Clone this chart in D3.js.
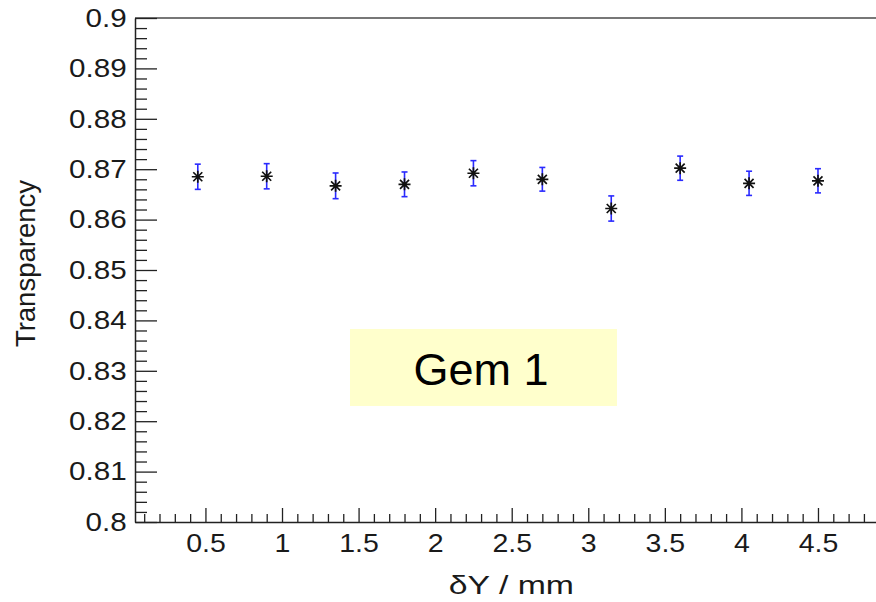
<!DOCTYPE html>
<html>
<head>
<meta charset="utf-8">
<script src="https://cdn.jsdelivr.net/npm/d3@7"></script>
<style>
  body { margin: 0; background: #fff; }
  svg { display: block; font-family: "Liberation Sans", Arial, Helvetica, sans-serif; }
</style>
</head>
<body>
<svg id="chart"></svg>
<script>
// data
const xVals = [0.45, 0.9, 1.35, 1.8, 2.25, 2.7, 3.15, 3.6, 4.05, 4.5];
const yVals = [0.8685, 0.8686, 0.8667, 0.8670, 0.8692, 0.8680, 0.8622, 0.8702, 0.8672, 0.8677];
const yErrs = [0.0025, 0.0025, 0.00255, 0.00245, 0.0025, 0.00235, 0.0025, 0.0024, 0.0024, 0.0024];

const xMajor = [0.5, 1, 1.5, 2, 2.5, 3, 3.5, 4, 4.5];
const xMinor = d3.range(1, 49).map(i => i / 10).filter(v => Math.abs(v * 2 - Math.round(v * 2)) > 1e-6);
const yMajor = [0.8, 0.81, 0.82, 0.83, 0.84, 0.85, 0.86, 0.87, 0.88, 0.89, 0.9];
const yMinor = d3.range(0, 51).map(i => 0.8 + i * 0.002).filter((v, i) => i % 5 !== 0);

const labelText = "Gem 1";
const xTitle = "δY / mm";
const yTitle = "Transparency";

const width = 876, height = 602;
const svg = d3.select("#chart").attr("width", width).attr("height", height);

const x = d3.scaleLinear().domain([0.04, 4.905]).range([135, 880]);
const y = d3.scaleLinear().domain([0.8, 0.9]).range([522, 18]);

const points = xVals.map((v, i) => ({ x: v, y: yVals[i], e: yErrs[i] }));

// label box
svg.append("rect")
    .attr("x", 350).attr("y", 329)
    .attr("width", 267).attr("height", 77)
    .attr("fill", "#ffffcc");

svg.append("text")
    .attr("x", 481).attr("y", 385)
    .attr("text-anchor", "middle")
    .style("font-size", "45px")
    .attr("fill", "#000")
    .text(labelText);

// top frame line
svg.append("line")
    .attr("x1", 135).attr("x2", width)
    .attr("y1", y(0.9)).attr("y2", y(0.9))
    .attr("stroke", "#777").attr("stroke-width", 2);

const axisColor = "#222";
const stretch = 1.14;

// y axis
const yAxis = svg.append("g")
    .attr("transform", `translate(${x.range()[0]},0)`)
    .call(d3.axisLeft(y).tickValues(yMajor).tickSizeInner(-22).tickSizeOuter(0).tickPadding(7.3)
        .tickFormat(d3.format("")));
yAxis.select(".domain").attr("stroke", axisColor).attr("stroke-width", 1.5);
yAxis.selectAll(".tick line").attr("stroke", axisColor).attr("stroke-width", 1.3);
yAxis.selectAll(".tick text")
    .attr("fill", "#1a1a1a")
    .style("font-size", "26px")
    .attr("transform", `scale(${stretch},1)`);

svg.append("g")
    .attr("transform", `translate(${x.range()[0]},0)`)
    .call(d3.axisLeft(y).tickValues(yMinor).tickSizeInner(-12).tickSizeOuter(0).tickFormat(""))
    .call(g => g.select(".domain").remove())
    .selectAll(".tick line").attr("stroke", axisColor).attr("stroke-width", 1.3);

// x axis
const xAxis = svg.append("g")
    .attr("transform", `translate(0,${y.range()[0]})`)
    .call(d3.axisBottom(x).tickValues(xMajor).tickSizeInner(-14).tickSizeOuter(0).tickPadding(12)
        .tickFormat(d3.format("")));
xAxis.select(".domain").attr("stroke", axisColor).attr("stroke-width", 1.5);
xAxis.selectAll(".tick line").attr("stroke", axisColor).attr("stroke-width", 1.3);
xAxis.selectAll(".tick text")
    .attr("fill", "#1a1a1a")
    .style("font-size", "25px")
    .attr("transform", `scale(${stretch},1)`);

svg.append("g")
    .attr("transform", `translate(0,${y.range()[0]})`)
    .call(d3.axisBottom(x).tickValues(xMinor).tickSizeInner(-8).tickSizeOuter(0).tickFormat(""))
    .call(g => g.select(".domain").remove())
    .selectAll(".tick line").attr("stroke", axisColor).attr("stroke-width", 1.3);

// axis titles
svg.append("text")
    .attr("transform", `translate(574,594) scale(1.3,1)`)
    .attr("text-anchor", "end")
    .style("font-size", "26px")
    .attr("fill", "#1a1a1a")
    .text(xTitle);

svg.append("text")
    .attr("transform", "translate(35,180) rotate(-90)")
    .attr("text-anchor", "end")
    .style("font-size", "27.5px")
    .attr("fill", "#1a1a1a")
    .text(yTitle);

// error bars
const bars = svg.append("g").attr("stroke", "#2a2aff").attr("stroke-width", 1.6);
bars.selectAll("line.err")
    .data(points)
    .join("line")
    .attr("class", "err")
    .attr("x1", d => x(d.x)).attr("x2", d => x(d.x))
    .attr("y1", d => y(d.y + d.e)).attr("y2", d => y(d.y - d.e));
bars.selectAll("line.capTop")
    .data(points)
    .join("line")
    .attr("class", "capTop")
    .attr("x1", d => x(d.x) - 3).attr("x2", d => x(d.x) + 3)
    .attr("y1", d => y(d.y + d.e)).attr("y2", d => y(d.y + d.e));
bars.selectAll("line.capBot")
    .data(points)
    .join("line")
    .attr("class", "capBot")
    .attr("x1", d => x(d.x) - 3).attr("x2", d => x(d.x) + 3)
    .attr("y1", d => y(d.y - d.e)).attr("y2", d => y(d.y - d.e));

// asterisk markers
const s = 6, sd = 4.5;
svg.append("g")
    .selectAll("path")
    .data(points)
    .join("path")
    .attr("d", d => {
        const cx = x(d.x), cy = y(d.y);
        return `M${cx - s},${cy}H${cx + s}M${cx},${cy - s}V${cy + s}` +
            `M${cx - sd},${cy - sd}L${cx + sd},${cy + sd}M${cx - sd},${cy + sd}L${cx + sd},${cy - sd}`;
    })
    .attr("stroke", "#111")
    .attr("stroke-width", 1.7)
    .attr("fill", "none");
</script>
</body>
</html>
